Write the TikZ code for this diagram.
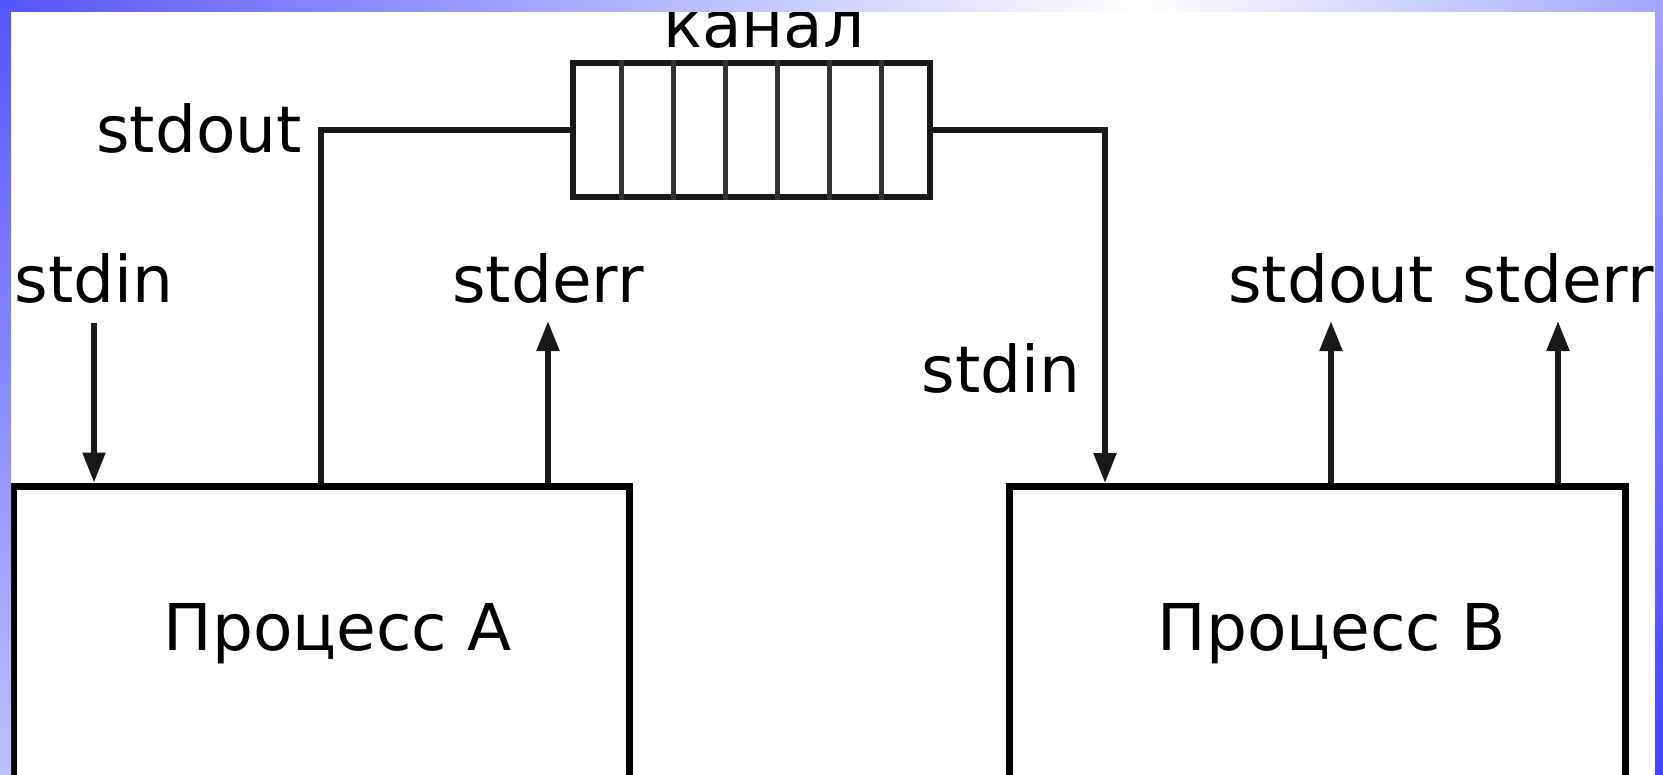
\documentclass[tikz,border=0pt]{standalone}
\usepackage{fontspec}
\setmainfont{DejaVu Sans}
\usetikzlibrary{arrows.meta,calc}
\definecolor{fblue}{HTML}{5555FF}
\definecolor{fblueR}{HTML}{A4A4FF}
\definecolor{fblueL}{HTML}{C0C0FF}
\definecolor{fblueD}{HTML}{4545FF}
\tikzset{
  procbox/.style={draw=black, line width=7pt, fill=white, minimum width=616pt, minimum height=300pt, inner sep=0pt},
  lbl/.style={inner sep=0pt, anchor=base, font=\fontsize{64.5}{77}\selectfont},
  conn/.style={draw=black!90, line width=5.5pt},
  arr/.style={conn, -{Triangle[length=30pt,width=22pt]}},
  chanbox/.style={draw=black!90, line width=6pt, fill=white, minimum width=357pt, minimum height=134pt, inner sep=0pt},
  divider/.style={draw=black!80, line width=5pt}
}
\begin{document}
\begin{tikzpicture}[x=1pt,y=-1pt]
\useasboundingbox (0,0) rectangle (1663,774);
\fill[white] (0,0) rectangle (1663,774);

% processes
\node[procbox] (procA) at (321,636) {};
\node[procbox] (procB) at (1317,636) {};
\node[lbl] (txtA) at (338,650) {Процесс A};
\node[lbl] (txtB) at (1332,650) {Процесс B};

% channel
\node[chanbox] (chan) at (751.5,130) {};
\foreach \i in {1,...,6}{
  \draw[divider] ($(chan.north west)!\i/7!(chan.north east)$) -- ($(chan.south west)!\i/7!(chan.south east)$);
}
\node[lbl] (chanlbl) at (764,47) {канал};

% labels
\node[lbl] (outA) at (199,152) {stdout};
\node[lbl] (inA) at (94,302) {stdin};
\node[lbl] (errA) at (548,302) {stderr};
\node[lbl] (inB) at (1001,392) {stdin};
\node[lbl] (outB) at (1331,302) {stdout};
\node[lbl] (errB) at (1558,302) {stderr};

% connectors
\draw[conn] (procA.north) |- (chan.west);
\coordinate (inBpt) at (1105,483);
\draw[arr] (chan.east) -| (inBpt);
\draw[arr] ([yshift=-20pt]inA.south) -- (inA.south |- procA.north);
\draw[arr] (errA.south |- procA.north) -- ([yshift=-18pt]errA.south);
\draw[arr] (outB.south |- procB.north) -- ([yshift=-18pt]outB.south);
\draw[arr] (errB.south |- procB.north) -- ([yshift=-18pt]errB.south);

% frame
\shade[left color=fblue, right color=white] (0,0) rectangle (1140,11);
\shade[left color=white, right color=fblueR] (1140,0) rectangle (1663,11);
\shade[top color=fblue, bottom color=fblueL] (0,0) rectangle (11,774);
\shade[top color=fblueR, bottom color=fblueD] (1655,0) rectangle (1663,774);
\end{tikzpicture}
\end{document}
